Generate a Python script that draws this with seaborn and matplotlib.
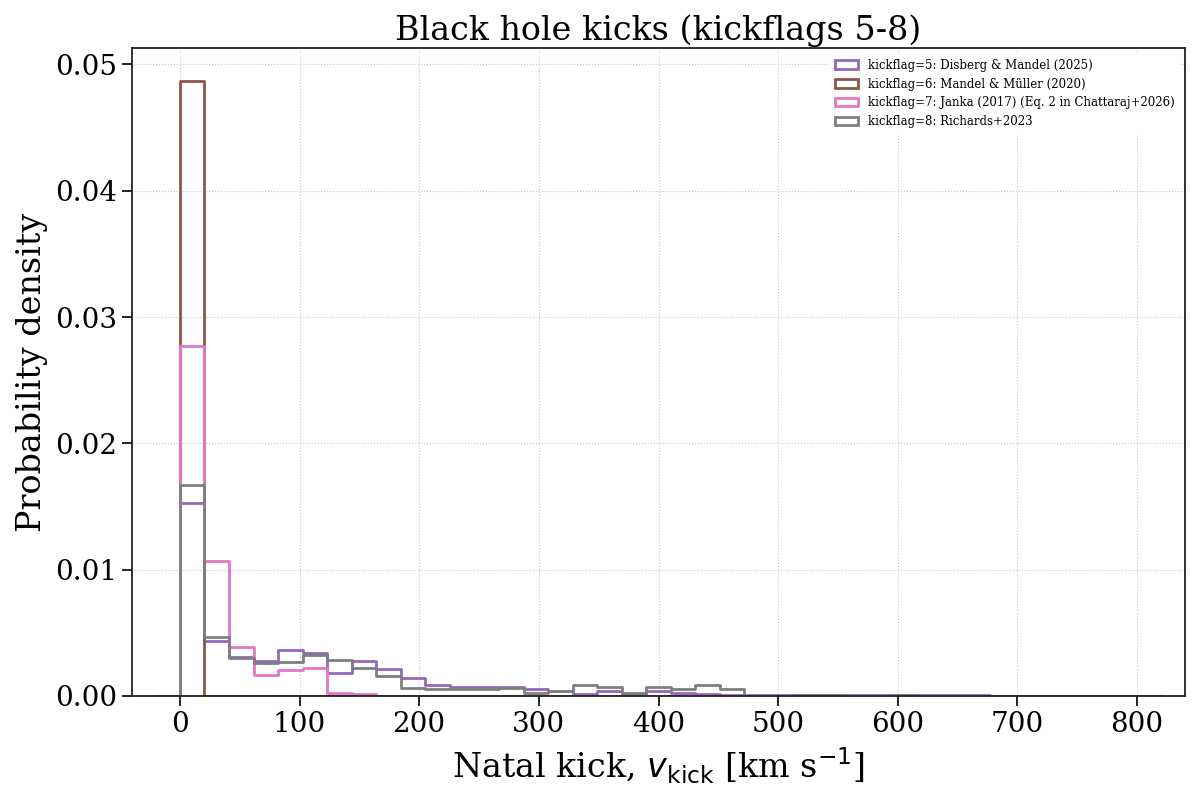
import seaborn as sns
import matplotlib.pyplot as plt
from matplotlib.patches import Patch
import numpy as np
import pandas as pd

# 39 bins between 0 and 800 km/s, heights are probability densities
bin_edges = np.linspace(0, 800, 40)

# kickflag=5: Disberg & Mandel (2025)
dens_k5 = [
    0.0153, 0.00436, 0.00312, 0.00275, 0.00362, 0.0034, 0.00186, 0.0028,
    0.0021, 0.00146, 0.00084, 0.00071, 0.00071, 0.00071, 0.00058, 0.00042,
    0.00018, 0.00042, 0.0001, 0.00037, 0.00026, 0.00016, 0.0001, 0.00005,
    0.00004, 0.00004, 0.00004, 0.00004, 0.00004, 0.00004, 0.00004, 0.00004,
    0.00004, 0.0, 0.0, 0.0, 0.00003, 0.0, 0.0,
]
# kickflag=6: Mandel & Muller (2020)
dens_k6 = [0.0487] + [0.0] * 38
# kickflag=7: Janka (2017)
dens_k7 = [
    0.0277, 0.0107, 0.00386, 0.00165, 0.00205, 0.00221, 0.00021, 0.00013,
] + [0.0] * 31
# kickflag=8: Richards+2023
dens_k8 = [
    0.0167, 0.00465, 0.003, 0.0026, 0.00269, 0.00322, 0.00282, 0.0022,
    0.00157, 0.00061, 0.00058, 0.00058, 0.00058, 0.00063, 0.00026, 0.00042,
    0.00084, 0.00074, 0.00026, 0.00069, 0.00053, 0.00084, 0.00058, 0.0,
    0.0, 0.00004, 0.00004, 0.0, 0.0, 0.00004, 0.0, 0.0,
    0.0, 0.0, 0.0, 0.0, 0.0, 0.0, 0.0,
]

labels = [
    "kickflag=5: Disberg & Mandel (2025)",
    "kickflag=6: Mandel & Müller (2020)",
    "kickflag=7: Janka (2017) (Eq. 2 in Chattaraj+2026)",
    "kickflag=8: Richards+2023",
]
colors = ["tab:purple", "tab:brown", "tab:pink", "tab:gray"]
series = [dens_k5, dens_k6, dens_k7, dens_k8]

sns.set_style("ticks")
plt.rcParams["font.family"] = ["DejaVu Serif"]
plt.rcParams["mathtext.fontset"] = "dejavusans"
for key in ["text.color", "axes.labelcolor", "xtick.color", "ytick.color"]:
    plt.rcParams[key] = "black"

fig, ax = plt.subplots(figsize=(12, 8), dpi=100)
fig.subplots_adjust(left=0.11, right=0.9875, bottom=0.13, top=0.94)

# pad with an empty bin on each side so the step outline drops to zero
w = bin_edges[1] - bin_edges[0]
edges = np.r_[bin_edges[0] - w, bin_edges, bin_edges[-1] + w]
centers = 0.5 * (edges[:-1] + edges[1:])

for dens, col in zip(series, colors):
    df = pd.DataFrame({"v": centers, "dens": np.r_[0.0, dens, 0.0]})
    sns.histplot(
        data=df,
        x="v",
        weights="dens",
        bins=list(edges),
        element="step",
        fill=False,
        color=col,
        linewidth=2,
        ax=ax,
    )

ax.set_xlim(-40, 840)
ax.set_ylim(0, 0.0513)
ax.set_xticks(np.arange(0, 801, 100))
ax.set_yticks([0, 0.01, 0.02, 0.03, 0.04, 0.05])
ax.set_yticklabels(["0.00", "0.01", "0.02", "0.03", "0.04", "0.05"])
ax.grid(True, linestyle=":", color="#c8c8c8", linewidth=0.8)
ax.tick_params(labelsize=20, direction="out", length=7, width=1.2)
for s in ax.spines.values():
    s.set_linewidth(1.3)
    s.set_color("#222222")

ax.set_xlabel(r"Natal kick, $v_{\rm kick}$ [km s$^{-1}$]", fontsize=24,
              labelpad=6)
ax.set_ylabel("Probability density", fontsize=24, labelpad=5)
ax.set_title("Black hole kicks (kickflags 5-8)", fontsize=24)

handles = [Patch(facecolor="none", edgecolor=c, linewidth=2, label=l)
           for c, l in zip(colors, labels)]
leg = ax.legend(handles=handles, loc="upper right", fontsize=8.5,
                labelspacing=0.5, frameon=True, framealpha=1,
                edgecolor="white")

plt.savefig("out.png", dpi=100)
